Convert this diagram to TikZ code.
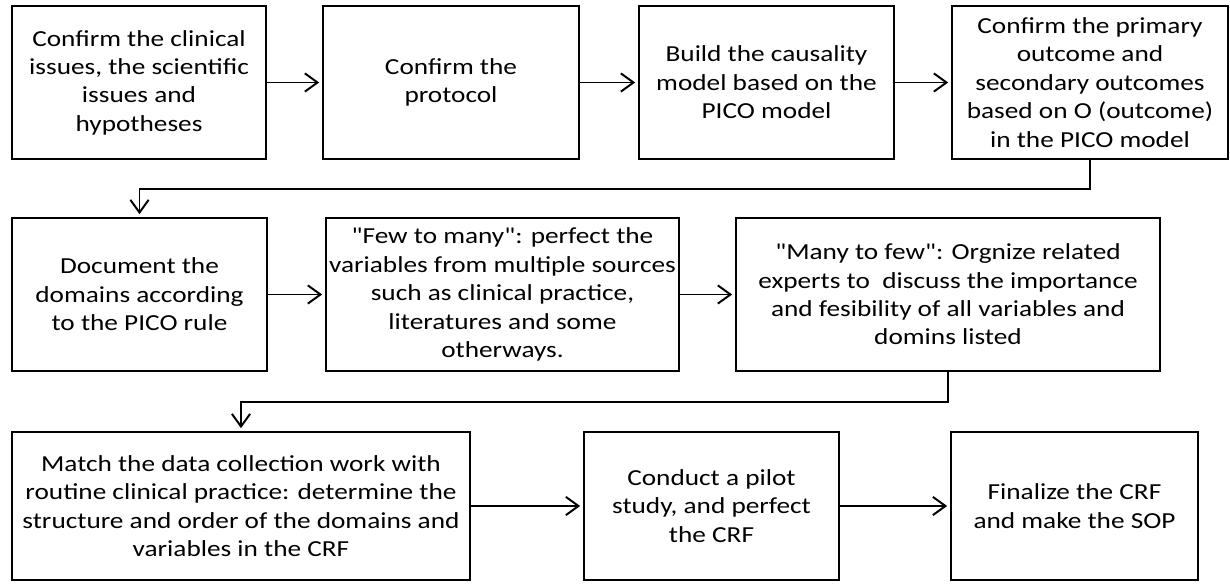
\documentclass[tikz,border=0pt]{standalone}
\usepackage{fontspec}
\setmainfont{Carlito}[FakeStretch=1.19,Ligatures=TeXOff]
\usetikzlibrary{arrows.meta}

\begin{document}
\begin{tikzpicture}[x=0.025cm,y=-0.025cm,
    box/.style={draw,line width=1.4pt,align=center,inner sep=0pt,
      font=\fontsize{16.3}{20.2}\selectfont},
    flow/.style={line width=1.4pt,shorten >=2pt,
      -{Straight Barb[length=9pt,width=13pt,line width=1.4pt]}}]
  \useasboundingbox (0,0) rectangle (1230,584);
  % first row
  \node[box,minimum width=6.35cm,minimum height=3.825cm] (issues) at (139,82.5)
    {Confirm the clinical\\issues, the scientific\\issues and\\hypotheses};
  \node[box,minimum width=6.4cm,minimum height=3.825cm] (protocol) at (451,82.5)
    {Confirm the\\protocol};
  \node[box,minimum width=6.375cm,minimum height=3.825cm] (causal) at (766.5,82.5)
    {Build the causality\\model based on the\\PICO model};
  \node[box,minimum width=6.9cm,minimum height=3.825cm] (outcome) at (1090,82.5)
    {Confirm the primary\\outcome and\\secondary outcomes\\based on O (outcome)\\in the PICO model};
  % second row
  \node[box,minimum width=6.375cm,minimum height=3.825cm] (domains) at (139.5,294.5)
    {Document the\\domains according\\to the PICO rule};
  \node[box,minimum width=8.825cm,minimum height=3.825cm] (fewmany) at (502.5,294.5)
    {"Few to many": perfect the\\variables from multiple sources\\such as clinical practice,\\literatures and some\\otherways.};
  \node[box,minimum width=10.6cm,minimum height=3.825cm] (manyfew) at (948,294.5)
    {"Many to few": Orgnize related\\experts to \ discuss the importance\\and fesibility of all variables and\\domins listed};
  % third row
  \node[box,minimum width=11.45cm,minimum height=3.7cm] (match) at (241,506)
    {Match the data collection work with\\routine clinical practice: determine the\\structure and order of the domains and\\variables in the CRF};
  \node[box,minimum width=6.375cm,minimum height=3.7cm] (pilot) at (711.5,506)
    {Conduct a pilot\\study, and perfect\\the CRF};
  \node[box,minimum width=6.175cm,minimum height=3.7cm] (final) at (1074.5,506)
    {Finalize the CRF\\and make the SOP};

  \draw[flow] (issues) -- (protocol);
  \draw[flow] (protocol) -- (causal);
  \draw[flow] (causal) -- (outcome);
  \draw[flow] (outcome.south) -- (outcome.south |- 0,189) -| (domains.north);
  \draw[flow] (domains) -- (fewmany);
  \draw[flow] (fewmany) -- (manyfew);
  \draw[flow] (manyfew.south) -- (manyfew.south |- 0,402) -| (match.north);
  \draw[flow] (match) -- (pilot);
  \draw[flow] (pilot) -- (final);
\end{tikzpicture}
\end{document}
